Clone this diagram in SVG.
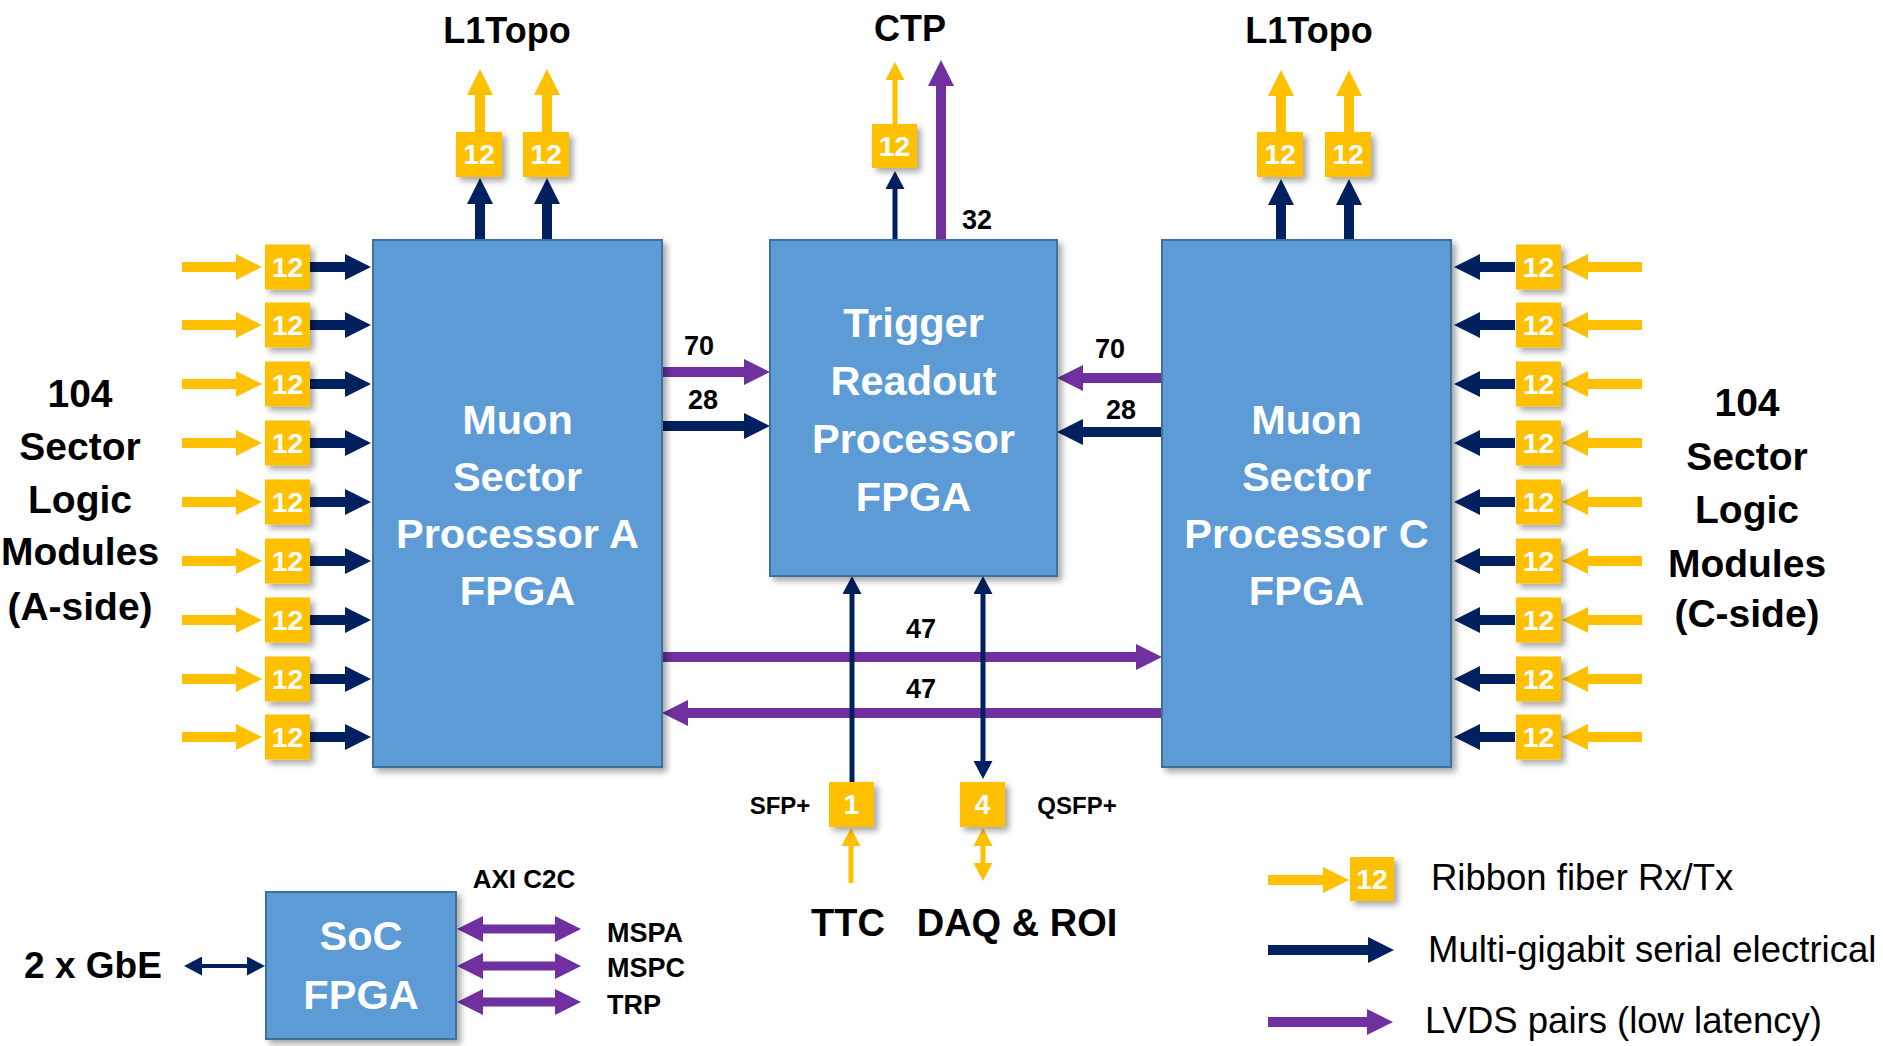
<svg xmlns="http://www.w3.org/2000/svg" width="1883" height="1046" viewBox="0 0 1883 1046">
<style>
text{font-family:"Liberation Sans",Arial,sans-serif}
.lbl{font-weight:bold;fill:#000}
.mid{text-anchor:middle}
.bx{fill:#5B9BD5;stroke:#41719C;stroke-width:2;filter:url(#sh)}
.bt{fill:#fff;font-size:41.5px;text-anchor:middle;font-weight:bold}
.yb{fill:#FFC000;filter:url(#sh)}
.yt{fill:#fff;font-size:28.5px;text-anchor:middle;font-weight:bold}
.Y{stroke:#FFC000;stroke-width:10;fill:none;marker-end:url(#mY)}
.N{stroke:#002060;stroke-width:10;fill:none;marker-end:url(#mN)}
.P{stroke:#7030A0;stroke-width:10;fill:none;marker-end:url(#mP)}
.Ys{stroke:#FFC000;stroke-width:5;fill:none;marker-end:url(#mYs)}
.Ns{stroke:#002060;stroke-width:5;fill:none;marker-end:url(#mNs)}
.num{font-size:27px;font-weight:bold;text-anchor:middle}
.side{font-size:39px;font-weight:bold;text-anchor:middle}
.leg{font-size:36.5px}
</style>
<defs>
<filter id="sh" x="-20%" y="-20%" width="150%" height="150%">
<feDropShadow dx="4" dy="4" stdDeviation="3" flood-color="#000" flood-opacity="0.35"/>
</filter>
<marker id="mY" markerUnits="userSpaceOnUse" markerWidth="26" markerHeight="26" refX="1" refY="13" orient="auto-start-reverse"><path d="M0,0 L26,13 L0,26 z" fill="#FFC000"/></marker>
<marker id="mN" markerUnits="userSpaceOnUse" markerWidth="26" markerHeight="26" refX="1" refY="13" orient="auto-start-reverse"><path d="M0,0 L26,13 L0,26 z" fill="#002060"/></marker>
<marker id="mP" markerUnits="userSpaceOnUse" markerWidth="26" markerHeight="26" refX="1" refY="13" orient="auto-start-reverse"><path d="M0,0 L26,13 L0,26 z" fill="#7030A0"/></marker>
<marker id="mYs" markerUnits="userSpaceOnUse" markerWidth="18" markerHeight="19" refX="1" refY="9.5" orient="auto-start-reverse"><path d="M0,0 L18,9.5 L0,19 z" fill="#FFC000"/></marker>
<marker id="mNs" markerUnits="userSpaceOnUse" markerWidth="18" markerHeight="19" refX="1" refY="9.5" orient="auto-start-reverse"><path d="M0,0 L18,9.5 L0,19 z" fill="#002060"/></marker>
</defs>
<rect width="1883" height="1046" fill="#fff"/>

<!-- Connectors -->
<g id="connectors">
<!-- left side inputs -->
<line class="Y" x1="182" y1="267" x2="237" y2="267"/><line class="N" x1="310" y1="267" x2="346" y2="267"/>
<line class="Y" x1="182" y1="325" x2="237" y2="325"/><line class="N" x1="310" y1="325" x2="346" y2="325"/>
<line class="Y" x1="182" y1="384" x2="237" y2="384"/><line class="N" x1="310" y1="384" x2="346" y2="384"/>
<line class="Y" x1="182" y1="443" x2="237" y2="443"/><line class="N" x1="310" y1="443" x2="346" y2="443"/>
<line class="Y" x1="182" y1="502" x2="237" y2="502"/><line class="N" x1="310" y1="502" x2="346" y2="502"/>
<line class="Y" x1="182" y1="561" x2="237" y2="561"/><line class="N" x1="310" y1="561" x2="346" y2="561"/>
<line class="Y" x1="182" y1="620" x2="237" y2="620"/><line class="N" x1="310" y1="620" x2="346" y2="620"/>
<line class="Y" x1="182" y1="679" x2="237" y2="679"/><line class="N" x1="310" y1="679" x2="346" y2="679"/>
<line class="Y" x1="182" y1="737" x2="237" y2="737"/><line class="N" x1="310" y1="737" x2="346" y2="737"/>
<!-- right side inputs -->
<line class="Y" x1="1642" y1="267" x2="1587" y2="267"/><line class="N" x1="1515" y1="267" x2="1479" y2="267"/>
<line class="Y" x1="1642" y1="325" x2="1587" y2="325"/><line class="N" x1="1515" y1="325" x2="1479" y2="325"/>
<line class="Y" x1="1642" y1="384" x2="1587" y2="384"/><line class="N" x1="1515" y1="384" x2="1479" y2="384"/>
<line class="Y" x1="1642" y1="443" x2="1587" y2="443"/><line class="N" x1="1515" y1="443" x2="1479" y2="443"/>
<line class="Y" x1="1642" y1="502" x2="1587" y2="502"/><line class="N" x1="1515" y1="502" x2="1479" y2="502"/>
<line class="Y" x1="1642" y1="561" x2="1587" y2="561"/><line class="N" x1="1515" y1="561" x2="1479" y2="561"/>
<line class="Y" x1="1642" y1="620" x2="1587" y2="620"/><line class="N" x1="1515" y1="620" x2="1479" y2="620"/>
<line class="Y" x1="1642" y1="679" x2="1587" y2="679"/><line class="N" x1="1515" y1="679" x2="1479" y2="679"/>
<line class="Y" x1="1642" y1="737" x2="1587" y2="737"/><line class="N" x1="1515" y1="737" x2="1479" y2="737"/>
<!-- top L1Topo A -->
<line class="N" x1="480" y1="240" x2="480" y2="203"/><line class="Y" x1="480" y1="132" x2="480" y2="94"/>
<line class="N" x1="547" y1="240" x2="547" y2="203"/><line class="Y" x1="547" y1="132" x2="547" y2="94"/>
<!-- top L1Topo C -->
<line class="N" x1="1281" y1="240" x2="1281" y2="204"/><line class="Y" x1="1281" y1="132" x2="1281" y2="95"/>
<line class="N" x1="1349" y1="240" x2="1349" y2="204"/><line class="Y" x1="1349" y1="132" x2="1349" y2="95"/>
<!-- CTP -->
<line class="Ns" x1="895" y1="240" x2="895" y2="188"/><line class="Ys" x1="895" y1="124" x2="895" y2="79"/>
<line class="P" x1="941" y1="240" x2="941" y2="85"/>
<!-- A <-> TRP -->
<line class="P" x1="662" y1="372" x2="745" y2="372"/>
<line class="N" x1="662" y1="426" x2="745" y2="426"/>
<line class="P" x1="1162" y1="378" x2="1082" y2="378"/>
<line class="N" x1="1162" y1="432" x2="1082" y2="432"/>
<!-- A <-> C -->
<line class="P" x1="662" y1="657" x2="1137" y2="657"/>
<line class="P" x1="1162" y1="713" x2="687" y2="713"/>
<!-- TTC / DAQ -->
<line class="Ns" x1="852" y1="782" x2="852" y2="593"/>
<line class="Ns" x1="983" y1="762" x2="983" y2="593" style="marker-start:url(#mNs)"/>
<line class="Ys" x1="851" y1="883" x2="851" y2="845"/>
<line class="Ys" x1="983" y1="864" x2="983" y2="845" style="marker-start:url(#mYs)"/>
<!-- SoC -->
<line class="Ns" x1="201" y1="966" x2="248" y2="966" style="stroke-width:4;marker-start:url(#mNs)"/>
<line class="P" x1="482" y1="929" x2="556" y2="929" style="stroke-width:9;marker-start:url(#mP)"/>
<line class="P" x1="482" y1="966" x2="556" y2="966" style="stroke-width:9;marker-start:url(#mP)"/>
<line class="P" x1="482" y1="1002" x2="556" y2="1002" style="stroke-width:9;marker-start:url(#mP)"/>
<!-- legend arrows -->
<line class="Y" x1="1268" y1="880" x2="1324" y2="880"/>
<line class="N" x1="1268" y1="950" x2="1369" y2="950"/>
<line class="P" x1="1268" y1="1022" x2="1368" y2="1022"/>
</g>

<!-- Main FPGA nodes -->
<g id="msp-a">
<rect class="bx" x="373" y="240" width="289" height="527"/>
<text class="bt" x="517.5" y="434">Muon</text>
<text class="bt" x="517.5" y="491">Sector</text>
<text class="bt" x="517.5" y="548">Processor A</text>
<text class="bt" x="517.5" y="605">FPGA</text>
</g>
<g id="trp">
<rect class="bx" x="770" y="240" width="287" height="336"/>
<text class="bt" x="913.5" y="337">Trigger</text>
<text class="bt" x="913.5" y="395">Readout</text>
<text class="bt" x="913.5" y="453">Processor</text>
<text class="bt" x="913.5" y="511">FPGA</text>
</g>
<g id="msp-c">
<rect class="bx" x="1162" y="240" width="289" height="527"/>
<text class="bt" x="1306.5" y="434">Muon</text>
<text class="bt" x="1306.5" y="491">Sector</text>
<text class="bt" x="1306.5" y="548">Processor C</text>
<text class="bt" x="1306.5" y="605">FPGA</text>
</g>
<g id="soc">
<rect class="bx" x="266" y="892" width="190" height="147"/>
<text class="bt" x="361" y="950">SoC</text>
<text class="bt" x="361" y="1009">FPGA</text>
</g>

<!-- Left fiber boxes -->
<g id="fa1"><rect class="yb" x="265" y="244.5" width="45" height="45"/><text class="yt" x="287.5" y="277">12</text></g>
<g id="fa2"><rect class="yb" x="265" y="302.5" width="45" height="45"/><text class="yt" x="287.5" y="335">12</text></g>
<g id="fa3"><rect class="yb" x="265" y="361.5" width="45" height="45"/><text class="yt" x="287.5" y="394">12</text></g>
<g id="fa4"><rect class="yb" x="265" y="420.5" width="45" height="45"/><text class="yt" x="287.5" y="453">12</text></g>
<g id="fa5"><rect class="yb" x="265" y="479.5" width="45" height="45"/><text class="yt" x="287.5" y="512">12</text></g>
<g id="fa6"><rect class="yb" x="265" y="538.5" width="45" height="45"/><text class="yt" x="287.5" y="571">12</text></g>
<g id="fa7"><rect class="yb" x="265" y="597.5" width="45" height="45"/><text class="yt" x="287.5" y="630">12</text></g>
<g id="fa8"><rect class="yb" x="265" y="656.5" width="45" height="45"/><text class="yt" x="287.5" y="689">12</text></g>
<g id="fa9"><rect class="yb" x="265" y="714.5" width="45" height="45"/><text class="yt" x="287.5" y="747">12</text></g>
<!-- Right fiber boxes -->
<g id="fc1"><rect class="yb" x="1516" y="244.5" width="45" height="45"/><text class="yt" x="1538.5" y="277">12</text></g>
<g id="fc2"><rect class="yb" x="1516" y="302.5" width="45" height="45"/><text class="yt" x="1538.5" y="335">12</text></g>
<g id="fc3"><rect class="yb" x="1516" y="361.5" width="45" height="45"/><text class="yt" x="1538.5" y="394">12</text></g>
<g id="fc4"><rect class="yb" x="1516" y="420.5" width="45" height="45"/><text class="yt" x="1538.5" y="453">12</text></g>
<g id="fc5"><rect class="yb" x="1516" y="479.5" width="45" height="45"/><text class="yt" x="1538.5" y="512">12</text></g>
<g id="fc6"><rect class="yb" x="1516" y="538.5" width="45" height="45"/><text class="yt" x="1538.5" y="571">12</text></g>
<g id="fc7"><rect class="yb" x="1516" y="597.5" width="45" height="45"/><text class="yt" x="1538.5" y="630">12</text></g>
<g id="fc8"><rect class="yb" x="1516" y="656.5" width="45" height="45"/><text class="yt" x="1538.5" y="689">12</text></g>
<g id="fc9"><rect class="yb" x="1516" y="714.5" width="45" height="45"/><text class="yt" x="1538.5" y="747">12</text></g>
<!-- Top fiber boxes -->
<g id="ta1"><rect class="yb" x="456" y="132" width="46" height="45"/><text class="yt" x="479" y="164">12</text></g>
<g id="ta2"><rect class="yb" x="523" y="132" width="46" height="45"/><text class="yt" x="546" y="164">12</text></g>
<g id="tc1"><rect class="yb" x="1257" y="132" width="46" height="45"/><text class="yt" x="1280" y="164">12</text></g>
<g id="tc2"><rect class="yb" x="1325" y="132" width="46" height="45"/><text class="yt" x="1348" y="164">12</text></g>
<g id="ctp-f"><rect class="yb" x="872" y="124" width="45" height="44"/><text class="yt" x="894.5" y="156">12</text></g>
<g id="sfp"><rect class="yb" x="829" y="782" width="45" height="45"/><text class="yt" x="851.5" y="814">1</text></g>
<g id="qsfp"><rect class="yb" x="960" y="782" width="45" height="45"/><text class="yt" x="982.5" y="814">4</text></g>

<!-- Labels -->
<g id="labels">
<text class="lbl mid" x="507" y="43" font-size="36">L1Topo</text>
<text class="lbl mid" x="910" y="41" font-size="36">CTP</text>
<text class="lbl mid" x="1309" y="43" font-size="36">L1Topo</text>
<text class="lbl num" x="977" y="229">32</text>
<text class="lbl num" x="699" y="355">70</text>
<text class="lbl num" x="703" y="409">28</text>
<text class="lbl num" x="1110" y="358">70</text>
<text class="lbl num" x="1121" y="419">28</text>
<text class="lbl num" x="921" y="638">47</text>
<text class="lbl num" x="921" y="698">47</text>
<text class="lbl side" x="80" y="407">104</text>
<text class="lbl side" x="80" y="460">Sector</text>
<text class="lbl side" x="80" y="513">Logic</text>
<text class="lbl side" x="80" y="565">Modules</text>
<text class="lbl side" x="80" y="620">(A-side)</text>
<text class="lbl side" x="1747" y="416">104</text>
<text class="lbl side" x="1747" y="470">Sector</text>
<text class="lbl side" x="1747" y="523">Logic</text>
<text class="lbl side" x="1747" y="577">Modules</text>
<text class="lbl side" x="1747" y="627">(C-side)</text>
<text class="lbl mid" x="780" y="814" font-size="24">SFP+</text>
<text class="lbl mid" x="1077" y="814" font-size="24">QSFP+</text>
<text class="lbl mid" x="848" y="936" font-size="38">TTC</text>
<text class="lbl mid" x="1017" y="936" font-size="38">DAQ &amp; ROI</text>
<text class="lbl mid" x="93" y="978" font-size="37">2 x GbE</text>
<text class="lbl mid" x="524" y="888" font-size="26">AXI C2C</text>
<text class="lbl" x="607" y="942" font-size="27">MSPA</text>
<text class="lbl" x="607" y="977" font-size="27">MSPC</text>
<text class="lbl" x="607" y="1014" font-size="27">TRP</text>
</g>

<!-- Legend -->
<g id="legend">
<g id="leg-box"><rect class="yb" x="1350" y="857" width="44" height="44"/><text class="yt" x="1372" y="889" font-size="27">12</text></g>
<text class="leg" x="1431" y="890">Ribbon fiber Rx/Tx</text>
<text class="leg" x="1428" y="962">Multi-gigabit serial electrical</text>
<text class="leg" x="1425" y="1033">LVDS pairs (low latency)</text>
</g>
</svg>
